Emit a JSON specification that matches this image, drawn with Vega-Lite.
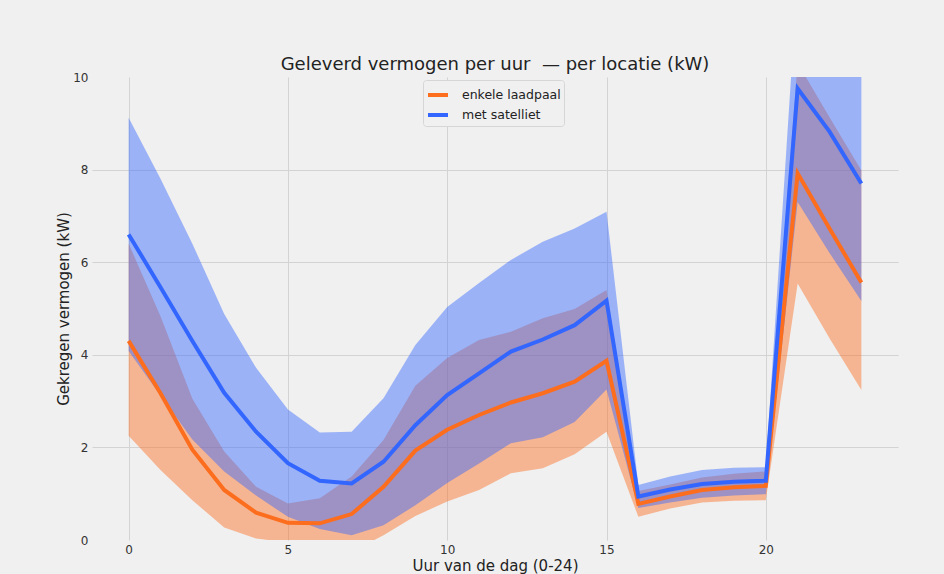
{
  "$schema": "https://vega.github.io/schema/vega-lite/v6.json",
  "autosize": "none",
  "width": 806,
  "height": 463,
  "padding": {"left": 92, "top": 77, "right": 46, "bottom": 34},
  "background": "#f0f0f0",
  "title": {
    "text": "Geleverd vermogen per uur\u00a0 — per locatie (kW)",
    "fontSize": 18,
    "fontWeight": "normal",
    "font": "DejaVu Sans",
    "color": "#222222",
    "anchor": "middle",
    "offset": -3
  },
  "config": {
    "font": "DejaVu Sans",
    "view": {"stroke": null, "fill": "#f0f0f0"},
    "axis": {
      "domain": false,
      "ticks": false,
      "gridColor": "#d3d3d3",
      "gridWidth": 1,
      "labelFontSize": 12,
      "labelColor": "#333333",
      "titleFontSize": 15,
      "titleFontWeight": "normal",
      "titleColor": "#222222"
    },
    "legend": {
      "fillColor": "#f0f0f0",
      "strokeColor": "#d6d6d6",
      "cornerRadius": 3,
      "padding": 3,
      "labelFontSize": 12.5,
      "labelColor": "#222222",
      "symbolStrokeWidth": 4,
      "symbolSize": 400,
      "rowPadding": 0,
      "labelOffset": 12
    }
  },
  "resolve": {"legend": {"color": "independent"}},
  "data": {
    "values": [
      {"hour": 0, "series": "enkele laadpaal", "mean": 4.3, "lo": 2.25, "hi": 6.4},
      {"hour": 1, "series": "enkele laadpaal", "mean": 3.17, "lo": 1.51, "hi": 4.83},
      {"hour": 2, "series": "enkele laadpaal", "mean": 1.95, "lo": 0.86, "hi": 3.05},
      {"hour": 3, "series": "enkele laadpaal", "mean": 1.08, "lo": 0.27, "hi": 1.91},
      {"hour": 4, "series": "enkele laadpaal", "mean": 0.59, "lo": 0.03, "hi": 1.15},
      {"hour": 5, "series": "enkele laadpaal", "mean": 0.37, "lo": -0.05, "hi": 0.79},
      {"hour": 6, "series": "enkele laadpaal", "mean": 0.36, "lo": -0.18, "hi": 0.9},
      {"hour": 7, "series": "enkele laadpaal", "mean": 0.56, "lo": -0.25, "hi": 1.37},
      {"hour": 8, "series": "enkele laadpaal", "mean": 1.15, "lo": 0.1, "hi": 2.16},
      {"hour": 9, "series": "enkele laadpaal", "mean": 1.93, "lo": 0.52, "hi": 3.33},
      {"hour": 10, "series": "enkele laadpaal", "mean": 2.38, "lo": 0.83, "hi": 3.93},
      {"hour": 11, "series": "enkele laadpaal", "mean": 2.7, "lo": 1.08, "hi": 4.32},
      {"hour": 12, "series": "enkele laadpaal", "mean": 2.97, "lo": 1.44, "hi": 4.5},
      {"hour": 13, "series": "enkele laadpaal", "mean": 3.17, "lo": 1.55, "hi": 4.79},
      {"hour": 14, "series": "enkele laadpaal", "mean": 3.42, "lo": 1.85, "hi": 4.99},
      {"hour": 15, "series": "enkele laadpaal", "mean": 3.87, "lo": 2.34, "hi": 5.4},
      {"hour": 16, "series": "enkele laadpaal", "mean": 0.78, "lo": 0.5, "hi": 1.06},
      {"hour": 17, "series": "enkele laadpaal", "mean": 0.94, "lo": 0.68, "hi": 1.2},
      {"hour": 18, "series": "enkele laadpaal", "mean": 1.08, "lo": 0.81, "hi": 1.35},
      {"hour": 19, "series": "enkele laadpaal", "mean": 1.14, "lo": 0.85, "hi": 1.43},
      {"hour": 20, "series": "enkele laadpaal", "mean": 1.17, "lo": 0.86, "hi": 1.48},
      {"hour": 21, "series": "enkele laadpaal", "mean": 7.92, "lo": 5.54, "hi": 10.3},
      {"hour": 22, "series": "enkele laadpaal", "mean": 6.73, "lo": 4.36, "hi": 9.13},
      {"hour": 23, "series": "enkele laadpaal", "mean": 5.56, "lo": 3.24, "hi": 7.98},
      {"hour": 0, "series": "met satelliet", "mean": 6.6, "lo": 4.08, "hi": 9.12},
      {"hour": 1, "series": "met satelliet", "mean": 5.46, "lo": 3.12, "hi": 7.8},
      {"hour": 2, "series": "met satelliet", "mean": 4.3, "lo": 2.17, "hi": 6.4},
      {"hour": 3, "series": "met satelliet", "mean": 3.18, "lo": 1.48, "hi": 4.88},
      {"hour": 4, "series": "met satelliet", "mean": 2.34, "lo": 0.96, "hi": 3.72},
      {"hour": 5, "series": "met satelliet", "mean": 1.66, "lo": 0.5, "hi": 2.82},
      {"hour": 6, "series": "met satelliet", "mean": 1.28, "lo": 0.24, "hi": 2.32},
      {"hour": 7, "series": "met satelliet", "mean": 1.22, "lo": 0.1, "hi": 2.34},
      {"hour": 8, "series": "met satelliet", "mean": 1.69, "lo": 0.32, "hi": 3.06},
      {"hour": 9, "series": "met satelliet", "mean": 2.48, "lo": 0.75, "hi": 4.21},
      {"hour": 10, "series": "met satelliet", "mean": 3.13, "lo": 1.23, "hi": 5.03},
      {"hour": 11, "series": "met satelliet", "mean": 3.6, "lo": 1.65, "hi": 5.55},
      {"hour": 12, "series": "met satelliet", "mean": 4.07, "lo": 2.09, "hi": 6.05},
      {"hour": 13, "series": "met satelliet", "mean": 4.33, "lo": 2.22, "hi": 6.44},
      {"hour": 14, "series": "met satelliet", "mean": 4.64, "lo": 2.55, "hi": 6.73},
      {"hour": 15, "series": "met satelliet", "mean": 5.17, "lo": 3.25, "hi": 7.09},
      {"hour": 16, "series": "met satelliet", "mean": 0.94, "lo": 0.69, "hi": 1.19},
      {"hour": 17, "series": "met satelliet", "mean": 1.09, "lo": 0.81, "hi": 1.37},
      {"hour": 18, "series": "met satelliet", "mean": 1.21, "lo": 0.91, "hi": 1.51},
      {"hour": 19, "series": "met satelliet", "mean": 1.26, "lo": 0.96, "hi": 1.56},
      {"hour": 20, "series": "met satelliet", "mean": 1.28, "lo": 0.99, "hi": 1.57},
      {"hour": 21, "series": "met satelliet", "mean": 9.75, "lo": 7.3, "hi": 12.2},
      {"hour": 22, "series": "met satelliet", "mean": 8.82, "lo": 6.2, "hi": 11.44},
      {"hour": 23, "series": "met satelliet", "mean": 7.7, "lo": 5.16, "hi": 10.24}
    ]
  },
  "encoding": {
    "x": {
      "field": "hour",
      "type": "quantitative",
      "scale": {"domain": [-1.15, 24.15], "nice": false, "zero": false},
      "axis": {
        "title": "Uur van de dag (0-24)",
        "values": [0, 5, 10, 15, 20],
        "labelPadding": 4,
        "titlePadding": 3,
        "labelAngle": 0
      }
    }
  },
  "layer": [
    {
      "mark": {"type": "area", "opacity": 0.45, "clip": true},
      "encoding": {
        "y": {
          "field": "lo",
          "type": "quantitative",
          "scale": {"domain": [0, 10], "nice": false, "zero": false},
          "axis": {
            "title": "Gekregen vermogen (kW)",
            "values": [0, 2, 4, 6, 8, 10],
            "labelPadding": 4,
            "titlePadding": 1,
            "gridOpacity": {"condition": {"test": "datum.value == 0 || datum.value == 10", "value": 0}, "value": 1}
          }
        },
        "y2": {"field": "hi"},
        "color": {
          "field": "series",
          "type": "nominal",
          "scale": {"domain": ["enkele laadpaal", "met satelliet"], "range": ["#fc6d1e", "#3366ff"]},
          "legend": null
        }
      }
    },
    {
      "mark": {"type": "line", "strokeWidth": 4, "clip": true},
      "encoding": {
        "y": {"field": "mean", "type": "quantitative"},
        "color": {
          "field": "series",
          "type": "nominal",
          "legend": {
            "title": null,
            "orient": "none",
            "legendX": 331,
            "legendY": 3,
            "symbolType": "stroke",
            "symbolOpacity": 1
          }
        }
      }
    }
  ]
}
